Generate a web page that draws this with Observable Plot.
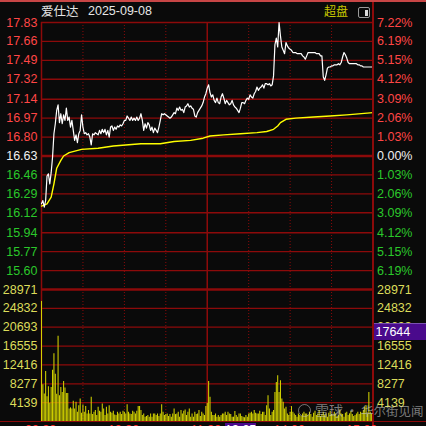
<!DOCTYPE html>
<html><head><meta charset="utf-8">
<script src="https://cdn.jsdelivr.net/npm/d3@7"></script>
<script src="https://cdn.jsdelivr.net/npm/@observablehq/plot@0.6"></script>
<style>
body{margin:0;background:#0a0a0a;}
#wrap{position:relative;width:426px;height:426px;overflow:hidden;background:#0a0a0a;font-family:"Liberation Sans",Arial,sans-serif;}
#wrap > *{position:absolute;}
</style></head><body><div id="wrap"></div>
<script>
// ---------- data ----------
const stockName = "爱仕达";
const tradeDate = "2025-09-08";
const preClose = 16.63;
const priceTicks = [17.83,17.66,17.49,17.32,17.14,16.97,16.80,16.63,16.46,16.29,16.12,15.94,15.77,15.60];
const pctLabels = ["7.22%","6.19%","5.15%","4.12%","3.09%","2.06%","1.03%","0.00%","1.03%","2.06%","3.09%","4.12%","5.15%","6.19%"];
const volTicks = [4139,8277,12416,16555,20693,24832,28971];
const timeLabels = ["09:30","10:30","11:30","14:00","15:00"];
const timeMinutes = [0,60,120,180,240];
const halfHourLines = [30,60,90,150,180,210];
const middayLine = [120];
// minute-by-minute last price (241 points)
const price = [
16.20,16.23,16.17,16.23,16.45,16.47,16.38,16.48,16.62,16.83,
16.92,17.04,17.09,16.93,17.01,16.92,17.00,16.95,17.06,16.95,
16.98,16.89,16.95,16.86,16.77,16.82,16.75,16.83,16.86,17.00,
16.89,16.83,16.84,16.82,16.83,16.80,16.73,16.83,16.82,16.84,
16.83,16.82,16.86,16.83,16.87,16.84,16.87,16.82,16.86,16.80,
16.89,16.90,16.86,16.89,16.87,16.90,16.89,16.91,16.90,16.92,
16.95,16.95,16.99,16.97,16.95,16.98,16.95,16.97,16.95,16.98,
16.95,16.97,17.01,16.95,16.86,16.92,16.88,16.93,16.91,16.86,
16.89,16.84,16.88,16.86,16.84,16.89,16.95,17.01,17.00,17.01,
17.00,16.99,16.98,16.97,16.98,17.00,17.02,17.01,17.06,17.04,
17.07,17.04,17.05,17.02,17.07,17.08,17.10,17.07,17.08,17.06,
17.05,16.99,16.98,17.02,17.04,17.06,17.08,17.11,17.16,17.19,
17.24,17.27,17.20,17.16,17.18,17.13,17.11,17.15,17.11,17.10,
17.16,17.19,17.15,17.10,17.13,17.11,17.09,17.10,17.13,17.09,
17.07,17.06,17.04,17.02,17.06,17.11,17.11,17.10,17.13,17.15,
17.14,17.18,17.16,17.15,17.19,17.21,17.25,17.22,17.24,17.25,
17.27,17.24,17.28,17.28,17.27,17.28,17.26,17.27,17.35,17.63,
17.69,17.61,17.83,17.71,17.61,17.58,17.55,17.65,17.62,17.60,
17.59,17.58,17.56,17.56,17.56,17.55,17.55,17.55,17.55,17.53,
17.52,17.50,17.53,17.56,17.56,17.56,17.56,17.56,17.56,17.55,
17.55,17.55,17.53,17.53,17.34,17.31,17.36,17.42,17.43,17.43,
17.44,17.44,17.45,17.45,17.45,17.46,17.45,17.47,17.52,17.56,
17.54,17.51,17.47,17.46,17.46,17.46,17.46,17.46,17.46,17.45,
17.45,17.44,17.44,17.43,17.43,17.43,17.43,17.43,17.43,17.43,
17.43];
// average price line, read at these minutes
const avgMinute = [0,4,7,9,11,14,16,20,29,41,52,72,86,96,108,117,122,132,144,156,163,168,171,173,177,184,197,209,221,240];
const avgPrice  = [16.18,16.20,16.26,16.38,16.52,16.59,16.63,16.66,16.69,16.70,16.72,16.74,16.74,16.76,16.77,16.79,16.81,16.82,16.83,16.84,16.85,16.87,16.90,16.93,16.96,16.97,16.98,16.99,17.00,17.02];
// minute volume (241 bars)
const volume = [
26350,8060,6030,10960,5450,7620,3990,7480,11250,14880,
10380,6000,18730,5660,7480,6390,8780,7330,6170,6170,
2760,3000,2760,4430,2760,4210,2030,3480,4940,1820,
3630,2030,3270,1670,2400,1670,5300,1520,2030,2400,
1310,3120,2250,2030,3850,2760,1310,3120,1670,3480,
2030,1820,2250,1450,1310,2030,1670,2030,1520,2250,
2030,1670,3700,2030,1670,1520,2250,2030,1670,2250,
3270,3270,2400,1310,1670,940,1090,1310,940,1670,
940,1670,1670,1310,1670,1090,1670,3700,2030,1310,
1520,1670,1090,1520,940,1670,2760,1520,1670,2030,
940,2400,1670,2250,2540,1310,2030,2760,940,1670,
940,2030,1520,1670,2400,1090,2030,1670,1310,3270,
3990,8780,5300,2030,1310,1310,1670,940,1310,940,
1310,1670,1670,2030,1310,2030,1670,1520,940,940,
2180,1310,940,1670,1670,1090,940,800,1310,940,
1670,1820,2030,1670,2400,1820,1670,1670,2250,1520,
2030,2030,1310,3480,5660,2760,1310,2030,2400,6390,
8570,10020,6390,8930,4940,4210,2760,3120,1670,1310,
2030,3270,2030,1670,1310,940,1670,1310,1090,1670,
2030,1670,1670,1310,2030,1520,940,1820,2250,1310,
1670,2400,1090,1520,2030,1310,1670,940,1820,2250,
1520,1310,2030,1670,1090,1310,2540,1670,1520,940,
1820,2030,1310,1670,2250,1520,1090,1310,1670,2030,
1520,2030,1820,2400,3120,3480,1670,6390,2030,1670,
5660];
const hoverVolume = "17644";
const hoverTime = "13:25";

// ---------- style ----------
const GRID = "#8c0a0a", RED = "#ff4646", GREEN = "#2ac82a", WHITE = "#f0f0f0", VOLC = "#dcdc5a";
const FONT = "'Liberation Sans', Arial, sans-serif";
const W = 426, ML = 41, MR = 53.5;
const wrap = document.getElementById("wrap");
const baseStyle = {background: "transparent", overflow: "visible", fontFamily: FONT, fontSize: "12.5px"};

const up = priceTicks.filter(d => d > preClose), dn = priceTicks.filter(d => d < preClose);
const pctOf = d => pctLabels[priceTicks.indexOf(d)];
const ax = (ticks, anchor, color, fmt) => Plot.axisY(ticks, {anchor, label: null, tickSize: 0, tickPadding: 4, fill: color, fontSize: 12.5, tickFormat: fmt});

const pricePlot = Plot.plot({
  width: W, height: 291, marginTop: 22, marginBottom: 2, marginLeft: ML, marginRight: MR,
  style: baseStyle,
  x: {domain: [0, 240], axis: null},
  y: {domain: [15.43, 17.83], axis: null, label: null},
  marks: [
    Plot.ruleY(priceTicks.filter(d => d !== preClose), {stroke: GRID, strokeWidth: 1.3}),
    Plot.ruleY([preClose], {stroke: GRID, strokeWidth: 2.5}),
    Plot.ruleX(halfHourLines, {stroke: GRID, strokeWidth: 1, strokeDasharray: "1,2"}),
    Plot.ruleX(middayLine, {stroke: GRID, strokeWidth: 1.5}),
    Plot.ruleX([0], {stroke: GRID, strokeWidth: 1.5}),
    Plot.line(avgMinute.map((m, i) => ({m, v: avgPrice[i]})), {x: "m", y: "v", stroke: "#ffff00", strokeWidth: 1.4}),
    Plot.lineY(price, {x: (d, i) => i, y: d => d, stroke: "#ffffff", strokeWidth: 1.2}),
    ax(up, "left", RED, d => d.toFixed(2)),
    ax([preClose], "left", WHITE, d => d.toFixed(2)),
    ax(dn, "left", GREEN, d => d.toFixed(2)),
    ax(up, "right", RED, pctOf),
    ax([preClose], "right", WHITE, pctOf),
    ax(dn, "right", GREEN, pctOf)
  ]
});
pricePlot.style.left = "0px"; pricePlot.style.top = "0px";

const volPlot = Plot.plot({
  width: W, height: 146, marginTop: 9, marginBottom: 5, marginLeft: ML, marginRight: MR,
  style: baseStyle,
  x: {domain: [0, 240], axis: null},
  y: {domain: [0, 28971], axis: null, label: null},
  marks: [
    Plot.ruleY(volTicks.slice(0, -1), {stroke: GRID, strokeWidth: 1.3}),
    Plot.ruleX(halfHourLines, {stroke: GRID, strokeWidth: 1, strokeDasharray: "1,2"}),
    Plot.ruleX(middayLine, {stroke: GRID, strokeWidth: 1.5}),
    Plot.ruleX([0], {stroke: GRID, strokeWidth: 1.5}),
    Plot.ruleX(volume, {x: (d, i) => i, y1: 0, y2: d => d, stroke: "#d2d200", strokeWidth: 1.05}),
    Plot.ruleY([28971], {stroke: GRID, strokeWidth: 2.5}),
    ax(volTicks, "left", VOLC, d => String(d)),
    ax(volTicks, "right", VOLC, d => String(d))
  ]
});
volPlot.style.left = "0px"; volPlot.style.top = "280px";

function el(html, css) {
  const d = document.createElement("div");
  d.innerHTML = html; d.style.cssText = "position:absolute;" + css;
  wrap.appendChild(d); return d;
}
// top strip
el("", "left:0;top:0;width:426px;height:2px;background:#c84646;");
wrap.appendChild(pricePlot);
wrap.appendChild(volPlot);
// borders
el("", "left:372px;top:2px;width:1.5px;height:424px;background:" + GRID + ";");
el("", "left:0;top:420.5px;width:426px;height:1.5px;background:" + GRID + ";");
// title
el(stockName, "left:41px;top:5px;font:12.5px 'Noto Sans CJK SC',sans-serif;color:#e6e6e6;line-height:1;");
el(tradeDate, "left:88px;top:5px;font:12.5px " + FONT + ";color:#e6e6e6;line-height:1;");
el("超盘", "left:324px;top:5px;font:12px 'Noto Sans CJK SC',sans-serif;color:#c8c800;line-height:1;");
el("<div style='position:absolute;left:6px;top:1.5px;width:3px;height:6px;background:#ddd;'></div>",
   "left:358px;top:7px;width:10px;height:9px;border:1.5px solid #9a9a9a;border-radius:2px;");
// hover volume label
el(hoverVolume, "left:373.5px;top:323px;width:52px;height:17px;background:#4a0a8c;color:#fff;font:12.5px " + FONT + ";line-height:17px;padding-left:2px;border-top:1px solid #7a50b0;box-sizing:border-box;");
// time labels (mostly below the window edge, as in the reference)
const xOf = m => ML + m * (W - ML - MR) / 240;
timeLabels.forEach((t, i) => {
  const x = Math.min(Math.max(xOf(timeMinutes[i]) - 16, 10), 346);
  el(t, `left:${x}px;top:424px;font:12.5px ${FONT};color:#ff3030;line-height:1;`);
});
el(hoverTime, "left:225px;top:423px;width:31px;height:10px;background:#4a0a8c;color:#fff;font:12.5px " + FONT + ";line-height:1;padding-top:1px;box-sizing:border-box;");
// watermark
el("<span style='display:inline-block;width:11px;height:11px;border:1.5px solid rgba(200,200,200,0.55);border-radius:50%;vertical-align:-1px;margin-right:4px;'></span>" +
   "<span style='font-size:14px'>雪球</span> · 华尔街见闻",
   "left:298px;top:403px;font:12.5px 'Noto Sans CJK SC',sans-serif;color:rgba(200,200,200,0.6);line-height:1;white-space:nowrap;");
</script></body></html>
